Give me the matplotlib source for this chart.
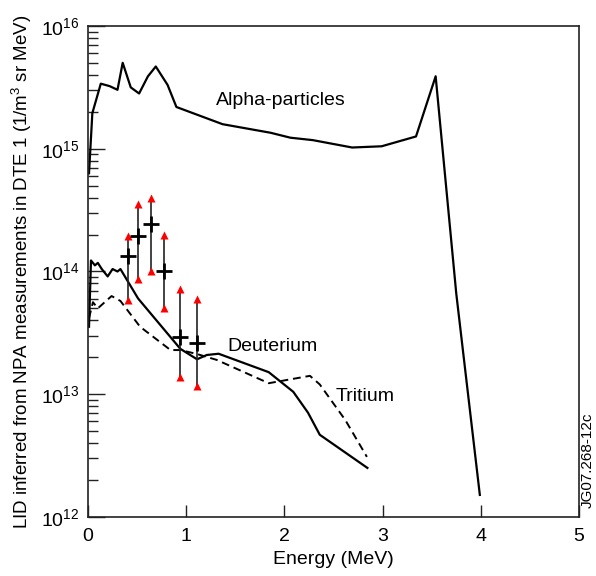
import numpy as np
import matplotlib
matplotlib.use('Agg')
import matplotlib.pyplot as plt
from matplotlib.ticker import LogLocator, NullFormatter

plt.rcParams['font.family'] = ['Liberation Sans', 'DejaVu Sans']
plt.rcParams['mathtext.fontset'] = 'custom'
plt.rcParams['mathtext.rm'] = 'Liberation Sans'
plt.rcParams['mathtext.default'] = 'regular'

# alpha-particles (energy in MeV, log10 of LID)
alpha_e = [0.01, 0.044, 0.13, 0.22, 0.30, 0.353, 0.435, 0.52, 0.61, 0.69, 0.81, 0.90,
           1.37, 1.86, 2.06, 2.29, 2.69, 2.99, 3.34, 3.54, 3.75, 3.99]
alpha_log = [14.80, 15.29, 15.53, 15.51, 15.48, 15.70, 15.50, 15.45, 15.59, 15.67, 15.52, 15.34,
             15.20, 15.13, 15.09, 15.07, 15.01, 15.02, 15.10, 15.59, 13.82, 12.18]

# deuterium
deut_e = [0.01, 0.03, 0.07, 0.10, 0.14, 0.20, 0.25, 0.30, 0.33, 0.36, 0.51, 0.94,
          1.11, 1.21, 1.33, 1.84, 2.09, 2.24, 2.36, 2.845]
deut_log = [13.55, 14.09, 14.05, 14.07, 14.02, 13.96, 14.02, 14.00, 14.02, 13.98, 13.78, 13.37,
            13.285, 13.32, 13.33, 13.18, 13.02, 12.85, 12.67, 12.40]

# tritium
trit_e = [0.01, 0.05, 0.10, 0.24, 0.33, 0.53, 0.84, 0.94, 1.10, 1.31, 1.84, 2.26, 2.36, 2.62, 2.84]
trit_log = [13.62, 13.75, 13.70, 13.80, 13.76, 13.55, 13.36, 13.36, 13.33, 13.28, 13.09, 13.15,
            13.08, 12.79, 12.49]

# NPA measurements with error range
meas_e = [0.404, 0.513, 0.642, 0.777, 0.937, 1.113]
meas_log = [14.126, 14.29, 14.385, 14.004, 13.47, 13.42]
meas_hi = [14.29, 14.55, 14.60, 14.30, 13.855, 13.78]
meas_lo = [13.77, 13.94, 14.004, 13.70, 13.14, 13.07]

fig = plt.figure(figsize=(5.96, 5.76), dpi=100)
ax = fig.add_axes([0.1477, 0.1024, 0.8238, 0.8525])

p = lambda a: 10 ** np.array(a)

ax.plot(alpha_e, p(alpha_log), color='black', lw=1.6)
ax.plot(deut_e, p(deut_log), color='black', lw=1.6)
ax.plot(trit_e, p(trit_log), color='black', lw=1.4, dashes=(4, 2.5))

ax.vlines(meas_e, p(meas_lo), p(meas_hi), color='#222222', lw=1.2)
ax.plot(meas_e, p(meas_hi), '^', color='red', ms=6, mec='none')
ax.plot(meas_e, p(meas_lo), '^', color='red', ms=6, mec='none')
ax.plot(meas_e, p(meas_log), '+', color='black', ms=12, mew=2)

ax.set_yscale('log')
ax.set_xlim(0, 5)
ax.set_ylim(1e12, 1e16)
ax.set_xticks([0, 1, 2, 3, 4, 5])
ax.yaxis.set_major_locator(LogLocator(base=10, numticks=10))
ax.yaxis.set_minor_locator(LogLocator(base=10, subs=np.arange(2, 10), numticks=10))
ax.yaxis.set_minor_formatter(NullFormatter())
ax.tick_params(axis='both', which='both', direction='in', top=False, right=False,
               labelsize=14, color='#222222')
ax.tick_params(axis='x', which='major', length=9, width=1, pad=8)
ax.tick_params(axis='y', which='major', length=12, width=1, pad=6)
ax.tick_params(axis='y', which='minor', length=7, width=1)
for s in ax.spines.values():
    s.set_linewidth(1.2)
    s.set_color('#222222')

ax.set_xlabel('Energy (MeV)', fontsize=14, labelpad=4)
ax.set_ylabel('LID inferred from NPA measurements in DTE 1 (1/m$^3$ sr MeV)', fontsize=13.5, labelpad=5)

ax.text(1.96, 10 ** 15.39, 'Alpha-particles', fontsize=14, ha='center', va='center')
ax.text(1.42, 10 ** 13.385, 'Deuterium', fontsize=14, ha='left', va='center')
ax.text(2.52, 10 ** 12.98, 'Tritium', fontsize=14, ha='left', va='center')

fig.text(588 / 596, 1 - 412 / 576, 'JG07.268-12c', rotation=90, fontsize=11,
         ha='center', va='top')

fig.savefig('out.png', dpi=100)
